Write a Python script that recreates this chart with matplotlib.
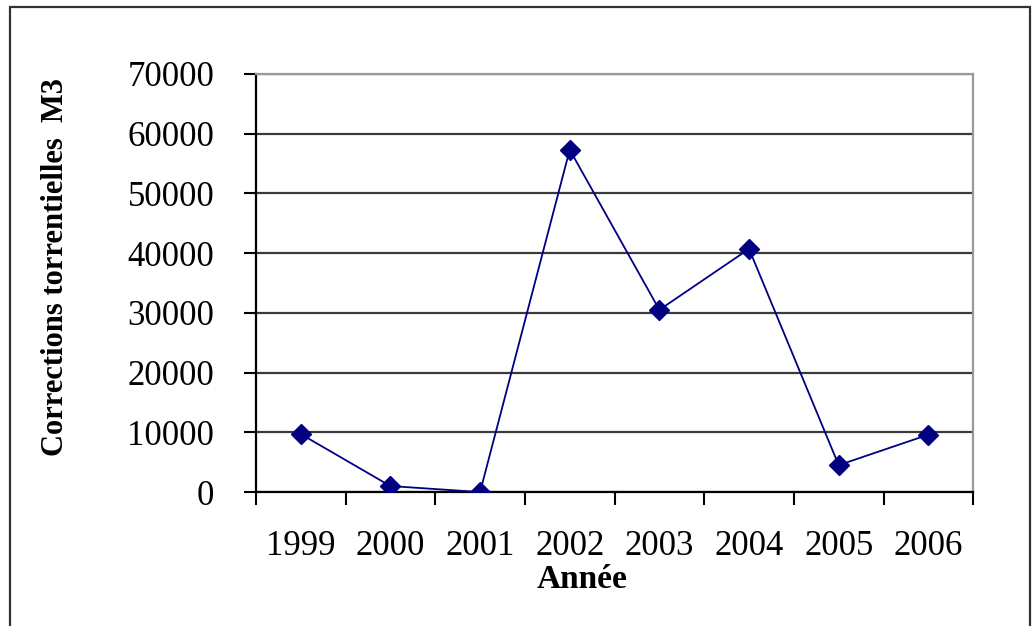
import matplotlib.pyplot as plt
from matplotlib.patches import Rectangle

# Data
years = ['1999', '2000', '2001', '2002', '2003', '2004', '2005', '2006']
volumes = [9700, 1000, 0, 57300, 30500, 40700, 4500, 9600]
y_ticks = [0, 10000, 20000, 30000, 40000, 50000, 60000, 70000]

plt.rcParams['font.family'] = ['Liberation Serif', 'DejaVu Serif']

fig = plt.figure(figsize=(10.32, 6.26), dpi=100)
ax = fig.add_axes([0.248, 0.214, 0.695, 0.668])

# outer chart border
fig.patches.append(Rectangle((0.010, -0.01), 0.988, 0.999, transform=fig.transFigure,
                             fill=False, edgecolor='#333333', linewidth=1.6))

x = list(range(len(years)))
ax.plot(x, volumes, color='#000080', linewidth=1.3, marker='D', markersize=10.5,
        markerfacecolor='#000080', markeredgecolor='#000080', zorder=3)

ax.set_xlim(-0.5, len(years) - 0.5)
ax.set_ylim(0, 70000)
ax.set_yticks(y_ticks)
ax.set_yticklabels([str(v) for v in y_ticks])
ax.yaxis.grid(True, color='#3a3a3a', linewidth=1.6)
ax.set_axisbelow(True)

ax.set_xticks(x)
ax.set_xticklabels(years)
ax.set_xticks([i - 0.5 for i in range(len(years) + 1)], minor=True)
ax.tick_params(axis='x', which='major', length=0, pad=27, labelsize=25)
ax.tick_params(axis='x', which='minor', length=9, width=1.5, direction='out')
ax.tick_params(axis='y', length=9, width=1.5, direction='out', labelsize=25, pad=21)

for side in ['left', 'bottom']:
    ax.spines[side].set_color('black')
    ax.spines[side].set_linewidth(1.6)
for side in ['top', 'right']:
    ax.spines[side].set_color('#999999')
    ax.spines[side].set_linewidth(1.6)

ax.set_xlabel('Année', fontsize=24, fontweight='bold', va='center')
ax.xaxis.set_label_coords(0.455, -0.21)
ax.set_ylabel('Corrections torrentielles  M3', fontsize=22, fontweight='bold', va='center')
ax.yaxis.set_label_coords(-0.280, 0.538)

plt.savefig('out.png', dpi=100)
